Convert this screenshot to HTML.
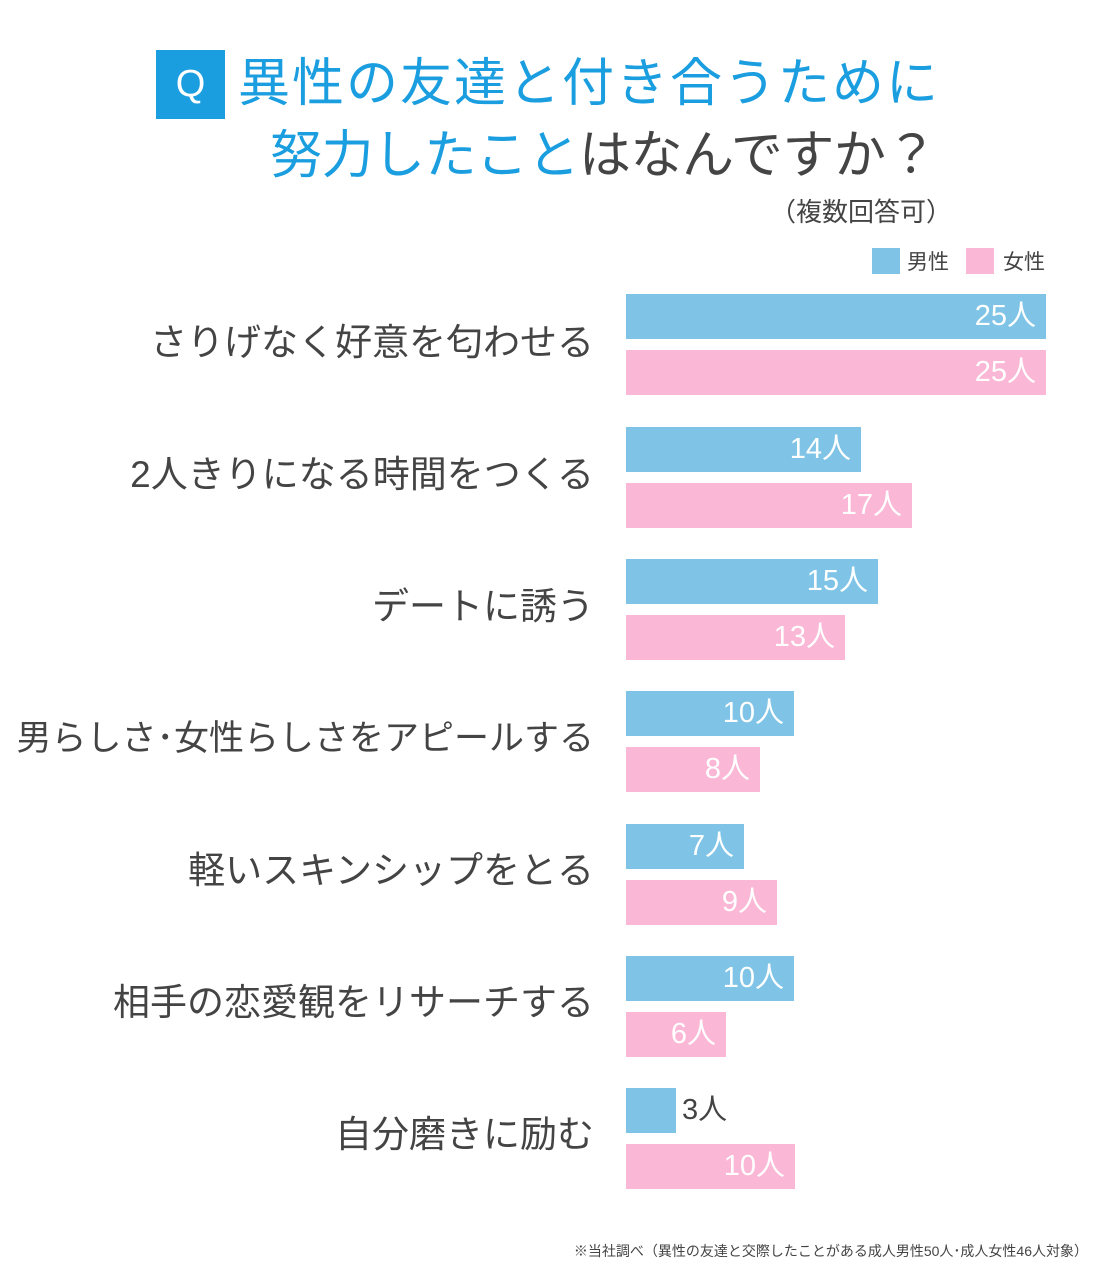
<!DOCTYPE html>
<html><head><meta charset="utf-8"><style>
body{margin:0;width:1100px;height:1265px;background:#fff;position:relative;overflow:hidden;font-family:"Liberation Sans","Noto Sans CJK JP",sans-serif;}
.a{position:absolute;white-space:nowrap;}
.q{left:156px;top:50px;width:69px;height:69px;background:#1a9ee0;color:#fff;font-size:38px;line-height:69px;text-align:center;}
.t{color:#1a9ee0;font-size:52px;line-height:64px;}
.lab{right:506px;font-size:37px;color:#444;line-height:46px;text-align:right;}
.bar{left:626px;height:45px;}
.b{background:#7fc4e6}.p{background:#fbb7d6}
.v{position:absolute;right:10px;top:0;line-height:45px;font-size:29px;color:#fff;}
</style></head><body>
<div class="a q">Q</div>
<div class="a t" style="left:238px;top:52px;letter-spacing:2px">異性の友達と付き合うために</div>
<div class="a t" style="left:270px;top:124px;letter-spacing:-0.5px">努力したこと<span style="color:#444">はなんですか？</span></div>
<div class="a" style="left:770px;top:192px;font-size:26px;color:#444">（複数回答可）</div>
<div class="a b" style="left:872px;top:248px;width:28px;height:26px"></div>
<div class="a" style="left:907px;top:246px;font-size:21px;color:#444">男性</div>
<div class="a p" style="left:966px;top:248px;width:28px;height:26px"></div>
<div class="a" style="left:1003px;top:246px;font-size:21px;color:#444">女性</div>

<div class="a lab" style="top:320px">さりげなく好意を匂わせる</div>
<div class="a bar b" style="top:294px;width:420px"><span class="v">25人</span></div>
<div class="a bar p" style="top:350px;width:420px"><span class="v">25人</span></div>

<div class="a lab" style="top:452px">2人きりになる時間をつくる</div>
<div class="a bar b" style="top:427px;width:235px"><span class="v">14人</span></div>
<div class="a bar p" style="top:483px;width:286px"><span class="v">17人</span></div>

<div class="a lab" style="top:584px">デートに誘う</div>
<div class="a bar b" style="top:559px;width:252px"><span class="v">15人</span></div>
<div class="a bar p" style="top:615px;width:219px"><span class="v">13人</span></div>

<div class="a lab" style="top:716px;font-size:35px">男らしさ･女性らしさをアピールする</div>
<div class="a bar b" style="top:691px;width:168px"><span class="v">10人</span></div>
<div class="a bar p" style="top:747px;width:134px"><span class="v">8人</span></div>

<div class="a lab" style="top:848px">軽いスキンシップをとる</div>
<div class="a bar b" style="top:824px;width:118px"><span class="v">7人</span></div>
<div class="a bar p" style="top:880px;width:151px"><span class="v">9人</span></div>

<div class="a lab" style="top:980px">相手の恋愛観をリサーチする</div>
<div class="a bar b" style="top:956px;width:168px"><span class="v">10人</span></div>
<div class="a bar p" style="top:1012px;width:100px"><span class="v">6人</span></div>

<div class="a lab" style="top:1112px">自分磨きに励む</div>
<div class="a bar b" style="top:1088px;width:50px"><span class="v" style="left:56px;right:auto;color:#444">3人</span></div>
<div class="a bar p" style="top:1144px;width:169px"><span class="v">10人</span></div>

<div class="a" style="right:12px;top:1241px;font-size:14px;color:#444">※当社調べ（異性の友達と交際したことがある成人男性50人･成人女性46人対象）</div>
</body></html>
